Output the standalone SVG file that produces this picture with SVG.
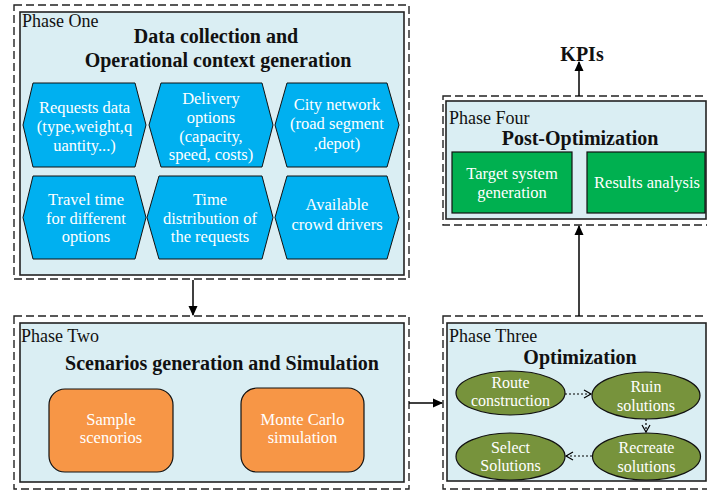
<svg xmlns="http://www.w3.org/2000/svg" width="707" height="492" viewBox="0 0 707 492">
<defs>
<style>
.outer{fill:#fff;stroke:#222;stroke-width:1.4;stroke-dasharray:8,4}
.inner{fill:#DAEEF3;stroke:#222;stroke-width:1.6}
.hex{fill:#00B0F0;stroke:#111;stroke-width:1}
.org{fill:#F79646;stroke:#111;stroke-width:1.2}
.grn{fill:#00B050;stroke:#111;stroke-width:1.2}
.ell{fill:#77933C;stroke:#111;stroke-width:1.2}
.lbl{font-family:"Liberation Serif",serif;font-size:18px;fill:#111}
.ttl{font-family:"Liberation Serif",serif;font-size:20px;font-weight:bold;fill:#111;text-anchor:middle}
.wt{font-family:"Liberation Serif",serif;font-size:16.5px;fill:#fff;text-anchor:middle}
.we{font-family:"Liberation Serif",serif;font-size:16px;fill:#fff;text-anchor:middle}
.arr{stroke:#000;stroke-width:1.5;fill:none}
.dot{stroke:#000;stroke-width:1.2;fill:none;stroke-dasharray:2,2}
</style>
<marker id="ah" markerWidth="10" markerHeight="10" refX="9" refY="5" orient="auto" markerUnits="userSpaceOnUse" viewBox="0 0 10 10">
<path d="M0,0.5 L10,5 L0,9.5 Z" fill="#000"/>
</marker>
<marker id="oh" markerWidth="10" markerHeight="10" refX="8" refY="5" orient="auto" markerUnits="userSpaceOnUse" viewBox="0 0 10 10">
<path d="M1,1 L8,5 L1,9" fill="none" stroke="#000" stroke-width="1.2"/>
</marker>
</defs>

<g id="phase-one">
<rect class="outer" x="14" y="5" width="395" height="274"/>
<rect class="inner" x="20" y="12" width="384" height="263"/>
<text class="lbl" x="22" y="27">Phase One</text>
<text class="ttl" x="216" y="43">Data collection and</text>
<text class="ttl" x="218" y="67">Operational context generation</text>
</g>
<g id="hex-requests">
<polygon class="hex" points="33,83 135,83 146,125 135,167 33,167 23,125"/>
<text class="wt" x="84.5" y="113">Requests data</text>
<text class="wt" x="84.5" y="132">(type,weight,q</text>
<text class="wt" x="84.5" y="151">uantity...)</text>
</g>
<g id="hex-delivery">
<polygon class="hex" points="161,83 262,83 273,125 262,167 161,167 149,125"/>
<text class="wt" x="211" y="104">Delivery</text>
<text class="wt" x="211" y="123">options</text>
<text class="wt" x="211" y="142">(capacity,</text>
<text class="wt" x="211" y="160">speed, costs)</text>
</g>
<g id="hex-city">
<polygon class="hex" points="287,83 387,83 399,125 387,167 287,167 275,125"/>
<text class="wt" x="337" y="110">City network</text>
<text class="wt" x="337" y="129">(road segment</text>
<text class="wt" x="337" y="149">,depot)</text>
</g>
<g id="hex-travel">
<polygon class="hex" points="33,176 135,176 146,217.5 135,259 33,259 23,217.5"/>
<text class="wt" x="86" y="205">Travel time</text>
<text class="wt" x="86" y="224">for different</text>
<text class="wt" x="86" y="242">options</text>
</g>
<g id="hex-time">
<polygon class="hex" points="159,176 262,176 273,217.5 262,259 159,259 147,217.5"/>
<text class="wt" x="210" y="205">Time</text>
<text class="wt" x="210" y="224">distribution of</text>
<text class="wt" x="210" y="242">the requests</text>
</g>
<g id="hex-crowd">
<polygon class="hex" points="287,176 387,176 399,217.5 387,259 287,259 275,217.5"/>
<text class="wt" x="337" y="210">Available</text>
<text class="wt" x="337" y="230">crowd drivers</text>
</g>

<g id="phase-two">
<rect class="outer" x="14" y="316" width="395" height="173"/>
<rect class="inner" x="20" y="323" width="384" height="159"/>
<text class="lbl" x="21" y="342">Phase Two</text>
<text class="ttl" x="222" y="370">Scenarios generation and Simulation</text>
</g>
<g id="sample-scenarios">
<rect class="org" x="49" y="389" width="124" height="83" rx="16"/>
<text class="wt" x="111" y="425">Sample</text>
<text class="wt" x="111" y="443">scenorios</text>
</g>
<g id="monte-carlo">
<rect class="org" x="241" y="388" width="123" height="84" rx="16"/>
<text class="wt" x="302.5" y="425">Monte Carlo</text>
<text class="wt" x="302.5" y="443">simulation</text>
</g>

<g id="phase-three">
<rect class="outer" x="443" y="316" width="275" height="173"/>
<rect class="inner" x="447" y="323" width="259" height="158"/>
<text class="lbl" x="449" y="342">Phase Three</text>
<text class="ttl" x="580" y="364">Optimization</text>
</g>
<g id="route-construction">
<ellipse class="ell" cx="510.5" cy="393" rx="54.5" ry="22"/>
<text class="we" x="510.5" y="388">Route</text>
<text class="we" x="510.5" y="406">construction</text>
</g>
<g id="ruin-solutions">
<ellipse class="ell" cx="646" cy="395.5" rx="54" ry="23.5"/>
<text class="we" x="646" y="392">Ruin</text>
<text class="we" x="646" y="411">solutions</text>
</g>
<g id="recreate-solutions">
<ellipse class="ell" cx="646.5" cy="456.5" rx="54" ry="23.5"/>
<text class="we" x="646.5" y="453">Recreate</text>
<text class="we" x="646.5" y="472">solutions</text>
</g>
<g id="select-solutions">
<ellipse class="ell" cx="510.5" cy="456.5" rx="54.5" ry="23.5"/>
<text class="we" x="510.5" y="453">Select</text>
<text class="we" x="510.5" y="471">Solutions</text>
</g>

<g id="phase-four">
<rect class="outer" x="443" y="96" width="275" height="129"/>
<rect class="inner" x="446" y="101" width="260" height="118"/>
<text class="lbl" x="449" y="124">Phase Four</text>
<text class="ttl" x="580" y="145">Post-Optimization</text>
</g>
<g id="target-system">
<rect class="grn" x="452" y="152" width="120" height="61"/>
<text class="wt" x="512" y="179">Target system</text>
<text class="wt" x="512" y="198">generation</text>
</g>
<g id="results-analysis">
<rect class="grn" x="587" y="152" width="118" height="61"/>
<text class="wt" x="647" y="188">Results analysis</text>
</g>
<g id="kpis">
<text class="ttl" x="582" y="61">KPIs</text>
</g>

<g id="connectors">
<line class="arr" x1="193" y1="280" x2="193" y2="315" marker-end="url(#ah)"/>
<line class="arr" x1="409" y1="403" x2="442" y2="403" marker-end="url(#ah)"/>
<line class="arr" x1="579" y1="316" x2="579" y2="226" marker-end="url(#ah)"/>
<line class="arr" x1="579" y1="96" x2="579" y2="62" marker-end="url(#ah)"/>
<line class="dot" x1="565" y1="394" x2="591" y2="394" marker-end="url(#oh)"/>
<line class="dot" x1="646" y1="419" x2="646" y2="432" marker-end="url(#oh)"/>
<line class="dot" x1="592" y1="456" x2="566" y2="456" marker-end="url(#oh)"/>
</g>
</svg>
